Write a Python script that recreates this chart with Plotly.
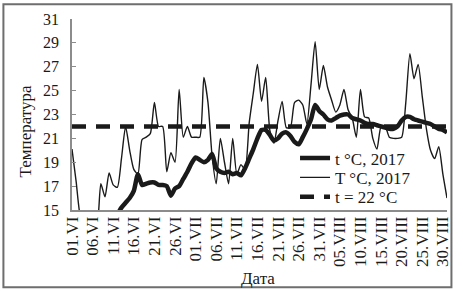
import plotly.graph_objects as go

# Day index 0 = 01.VI ... 91 = 31.VIII
days = list(range(92))

tick_positions = [0, 5, 10, 15, 20, 25, 30, 35, 40, 45, 50, 55, 60, 65, 70, 75, 80, 85, 90]
tick_labels = ["01.VI", "06.VI", "11.VI", "16.VI", "21.VI", "26.VI",
               "01.VII", "06.VII", "11.VII", "16.VII", "21.VII", "26.VII", "31.VII",
               "05.VIII", "10.VIII", "15.VIII", "20.VIII", "25.VIII", "30.VIII"]

# thick line: t °C, 2017
t_2017 = [None, None, None, None, None, None, None, None, None, None, None,
          14.6, 15.2, 15.6, 16.0, 16.6, 18.0, 17.1, 17.2, 17.3, 17.3,
          17.1, 17.1, 17.0, 16.2, 16.8, 17.0, 17.6, 18.2, 18.9, 19.4,
          19.2, 19.0, 19.2, 19.7, 18.5, 18.2, 18.1, 18.2, 18.0, 18.1,
          17.9, 18.5, 19.3, 20.1, 21.0, 21.7, 21.7, 21.3, 20.8, 21.0,
          21.4, 21.5, 21.2, 20.7, 20.5, 21.1, 21.8, 22.6, 23.8, 23.3,
          23.0, 22.6, 22.5, 22.7, 22.9, 23.0, 23.0, 22.7, 22.6, 22.5,
          22.3, 22.2, 22.2, 22.1, 22.0, 21.9, 21.8, 21.8, 22.0, 22.5,
          22.8, 22.8, 22.6, 22.5, 22.4, 22.3, 22.2, 22.0, 21.8, 21.7,
          21.5]

# thin line: T °C, 2017
T_2017 = [20.1, 17.4, 14.5, 13.8, 13.5, 13.9, 13.5, 17.2, 16.1, 18.1,
          17.1, 16.9, 19.3, 22.0, 20.0, 18.4, 18.0, 20.9, 21.1, 21.4,
          24.0, 22.0, 22.0, 18.2, 19.8, 19.0, 25.1, 21.1, 22.0, 21.1,
          21.1, 21.1, 26.1, 24.0, 19.5, 17.2, 21.0, 19.0, 17.2, 21.0,
          18.0, 18.8, 18.4, 22.3, 24.8, 27.2, 24.1, 26.1, 21.7, 20.6,
          22.5, 24.1, 21.9, 21.9, 24.0, 24.2, 23.8, 22.2, 25.5, 29.1,
          25.1, 27.1, 25.3, 24.2, 23.2, 23.8, 25.1, 23.4, 22.7, 21.1,
          25.1, 22.8, 22.7, 21.0, 20.1, 22.0, 22.0, 21.1, 21.0, 21.0,
          21.1, 24.0, 28.1, 26.0, 27.2, 24.5, 21.8, 20.0, 19.3, 20.3,
          18.0, 16.0]

threshold = 22

FONT = "Liberation Serif, Times New Roman, serif"
INK = "#1a1a1a"

fig = go.Figure()
fig.add_trace(go.Scatter(
    x=days, y=t_2017, mode="lines", name="t °C, 2017", legend="legend",
    line=dict(color=INK, width=4.5, shape="spline", smoothing=0.6),
    connectgaps=False))
fig.add_trace(go.Scatter(
    x=days, y=T_2017, mode="lines", name="T °C, 2017", legend="legend2",
    line=dict(color=INK, width=1.4, shape="spline", smoothing=0.6)))
fig.add_trace(go.Scatter(
    x=[days[0], days[-1]], y=[threshold, threshold], mode="lines",
    name="t = 22 °C", legend="legend3",
    line=dict(color=INK, width=4.5, dash="14px,10px")))

W, H = 463, 291
L, R, T, B = 72, 11, 17, 81
pw = W - L - R
ph = H - T - B

def px(x):
    return (x - L) / pw

def py(y):
    return (H - B - y) / ph

def leg(yc):
    return dict(x=px(298), y=py(yc), xanchor="left", yanchor="middle",
                bgcolor="rgba(0,0,0,0)", font=dict(family=FONT, size=17, color=INK),
                itemwidth=30)

fig.update_layout(
    width=W, height=H,
    margin=dict(l=L, r=R, t=T, b=B),
    paper_bgcolor="white", plot_bgcolor="white",
    font=dict(family=FONT, size=16, color=INK),
    showlegend=True,
    legend=leg(158), legend2=leg(177.5), legend3=leg(197),
    xaxis=dict(range=[0, 91], tickmode="array", tickvals=tick_positions,
               ticktext=tick_labels, tickangle=-90, showgrid=False, zeroline=False,
               showline=True, linecolor="#8c8c8c", linewidth=1.5, ticks="",
               ticklabelstandoff=-2,
               tickfont=dict(family=FONT, size=17, color=INK)),
    yaxis=dict(range=[15, 31], dtick=2, tick0=15, showgrid=False, zeroline=False,
               showline=True, linecolor="#8c8c8c", linewidth=1.5,
               ticks="inside", ticklen=4, tickcolor="#8c8c8c",
               ticklabelstandoff=8,
               tickfont=dict(family=FONT, size=16, color=INK)),
    annotations=[
        dict(text="Температура", x=px(25), y=py(131), xref="paper", yref="paper",
             xanchor="center", yanchor="middle",
             textangle=-90, showarrow=False, font=dict(family=FONT, size=17, color=INK)),
        dict(text="Дата", x=px(260), y=py(279), xref="paper", yref="paper",
             xanchor="center", yanchor="middle",
             showarrow=False, font=dict(family=FONT, size=17, color=INK)),
    ],
    shapes=[
        dict(type="rect", xref="paper", yref="paper",
             x0=px(2.5), x1=px(456.5), y0=py(288), y1=py(2),
             line=dict(color="#6e6e6e", width=2), fillcolor="rgba(0,0,0,0)", layer="below"),
    ],
)

fig.write_html("out.html", config={"displayModeBar": False},
               post_script="document.body.style.margin='0';")
